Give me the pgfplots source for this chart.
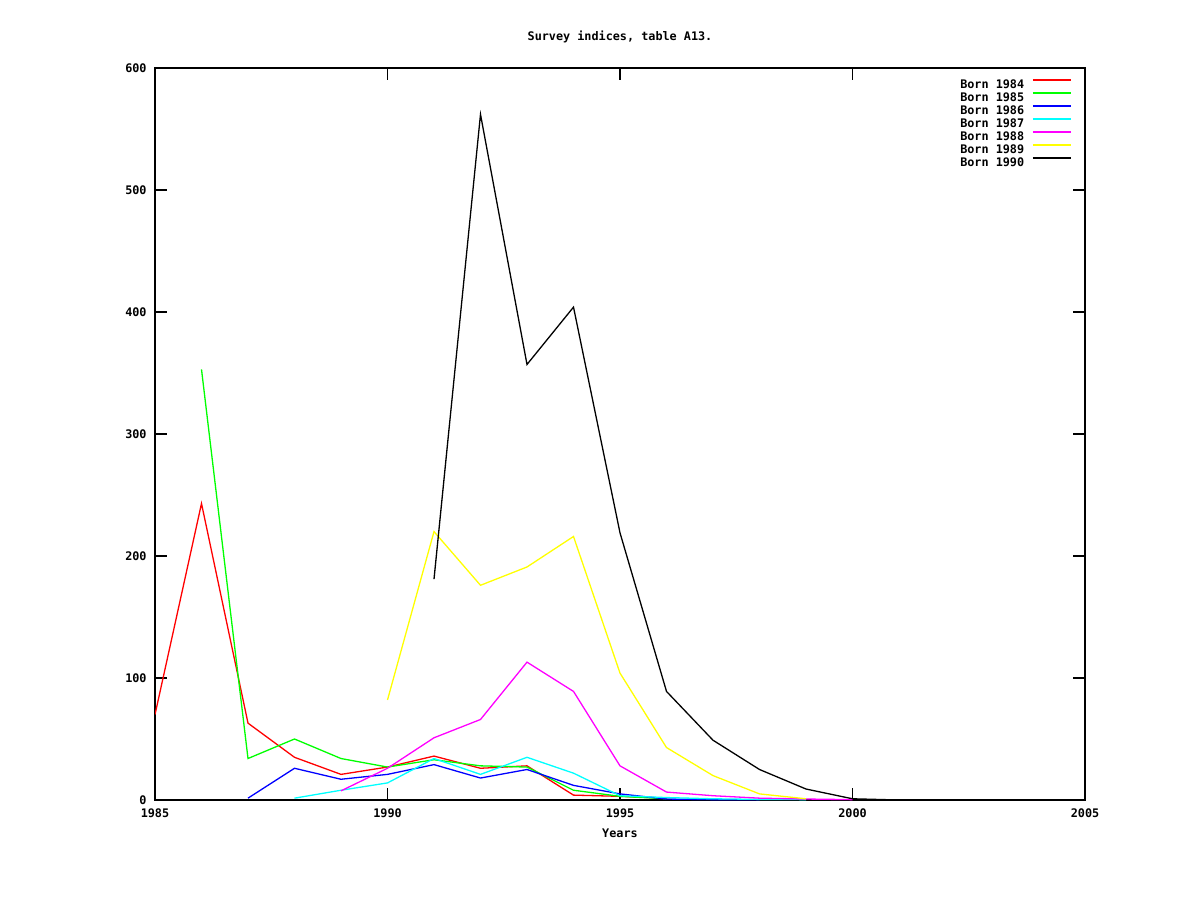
\documentclass[border=0pt]{standalone}
\usepackage{fontspec}
\setmonofont{DejaVu Sans Mono}
\usepackage{pgfplots}
\pgfplotsset{compat=1.18}
\newcommand\gf{\fontsize{5.9}{7}\selectfont\ttfamily\bfseries}
\definecolor{gred}{RGB}{255,0,0}
\definecolor{ggreen}{RGB}{0,255,0}
\definecolor{gblue}{RGB}{0,0,255}
\definecolor{gcyan}{RGB}{0,255,255}
\definecolor{gmag}{RGB}{255,0,255}
\definecolor{gyel}{RGB}{255,255,0}
\begin{document}
\begin{tikzpicture}
\fill[white] (0,0) rectangle (600pt,450pt);
\begin{axis}[
  at={(77.5pt,50pt)}, anchor=south west,
  scale only axis, width=465pt, height=366pt,
  xmin=1985, xmax=2005, ymin=0, ymax=600,
  xtick={1985,1990,1995,2000,2005},
  ytick={0,100,200,300,400,500,600},
  minor tick num=0,
  tick align=inside, major tick length=6pt,
  axis line style={line width=0.6pt},
  every tick/.style={black, line width=0.6pt},
  tick label style={font=\gf},
  /pgf/number format/assume math mode=true,
  /pgf/number format/1000 sep={},
  yticklabel style={anchor=east, inner sep=0pt, xshift=-4pt},
  xticklabel style={anchor=base, inner sep=0pt, yshift=-9pt},
  title={Survey indices, table A13.},
  title style={font=\gf, at={(axis description cs:0.5,1)}, anchor=base, yshift=8pt, inner sep=0pt},
  xlabel={Years},
  xlabel style={font=\gf, at={(axis description cs:0.5,0)}, anchor=base, yshift=-18.5pt, inner sep=0pt},
  legend style={font=\gf, at={(axis description cs:1,1)}, anchor=north east,
    xshift=-6.5pt, yshift=-4.75pt, draw=none, fill=none, inner sep=0pt,
    row sep=0pt, column sep=3pt,
    nodes={inner sep=1pt, text height=4.5pt, text depth=0pt}},
  legend plot pos=right,
  legend cell align=right,
  legend image code/.code={\draw[#1, line width=0.7pt] (0pt,2.2pt) -- (19pt,2.2pt);},
  every axis plot/.append style={line width=0.65pt},
  no markers,
]
\addplot[gred] coordinates {(1985,70) (1986,243) (1987,63) (1988,35) (1989,21) (1990,27) (1991,36) (1992,26) (1993,28) (1994,4) (1995,3) (1996,1.5)};
\addlegendentry{Born 1984}
\addplot[ggreen] coordinates {(1986,353) (1987,34) (1988,50) (1989,34) (1990,27) (1991,33) (1992,28) (1993,27) (1994,8) (1995,3) (1996,1)};
\addlegendentry{Born 1985}
\addplot[gblue] coordinates {(1987,1.5) (1988,26) (1989,17) (1990,21) (1991,29) (1992,18) (1993,25) (1994,12) (1995,5) (1996,0.8) (1997,0.3) (1998,0.2)};
\addlegendentry{Born 1986}
\addplot[gcyan] coordinates {(1988,1.5) (1989,8) (1990,14) (1991,34) (1992,21) (1993,35) (1994,22) (1995,3.5) (1996,2) (1997,1) (1998,0.5) (1999,0.3)};
\addlegendentry{Born 1987}
\addplot[gmag] coordinates {(1989,7.5) (1990,26) (1991,51) (1992,66) (1993,113) (1994,89) (1995,28) (1996,6.5) (1997,3.5) (1998,1.5) (1999,0.8) (2000,0.3)};
\addlegendentry{Born 1988}
\addplot[gyel] coordinates {(1990,82) (1991,220) (1992,176) (1993,191) (1994,216) (1995,104) (1996,43) (1997,20) (1998,5) (1999,1)};
\addlegendentry{Born 1989}
\addplot[black] coordinates {(1991,181) (1992,562) (1993,357) (1994,404) (1995,219) (1996,89) (1997,49) (1998,25) (1999,9) (2000,1) (2001,0)};
\addlegendentry{Born 1990}
\end{axis}
\end{tikzpicture}
\end{document}
